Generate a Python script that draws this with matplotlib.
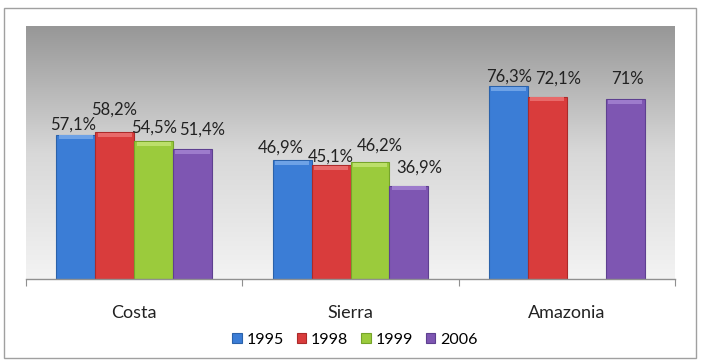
import numpy as np
import matplotlib
matplotlib.use('Agg')
import matplotlib.pyplot as plt
from matplotlib.patches import Rectangle

# Data
regions = ['Costa', 'Sierra', 'Amazonia']
years = ['1995', '1998', '1999', '2006']
v1995 = [57.1, 46.9, 76.3]
v1998 = [58.2, 45.1, 72.1]
v1999 = [54.5, 46.2, np.nan]   # no bar for Amazonia 1999
v2006 = [51.4, 36.9, 71.0]
labels = [
    ['57,1%', '46,9%', '76,3%'],
    ['58,2%', '45,1%', '72,1%'],
    ['54,5%', '46,2%', ''],
    ['51,4%', '36,9%', '71%'],
]
series = [v1995, v1998, v1999, v2006]

# label offsets in pixels (dx, dy) above each bar top, mimicking Excel placement
offsets = [
    [(-3, 10), (-11, 13), (1, 9)],
    [(-1, 22), (0, 8), (11, 18)],
    [(0, 13), (10, 16), (0, 0)],
    [(10, 19), (10, 18), (2, 20)],
]

colors = ['#3b7dd6', '#d93c3c', '#9bcb3c', '#7e56b2']
edges = ['#2b62aa', '#ab2a2a', '#76a42a', '#5e4090']
lights = ['#6ea2e6', '#e86a6a', '#bcdf6a', '#9d7bcc']

plt.rcParams['font.family'] = ['Lato', 'DejaVu Sans']

fig = plt.figure(figsize=(7.04, 3.6), dpi=100)
fig.patches.append(Rectangle((4 / 704, 2 / 360), 692 / 704, 350 / 360,
                             transform=fig.transFigure, fill=False,
                             edgecolor='#a0a0a0', linewidth=1.0))

ax = fig.add_axes([26 / 704, 1 - 279 / 360, 649 / 704, 253 / 360])
ax.set_xlim(-0.5, 2.5)
ax.set_ylim(0, 100)

# gray gradient background
grad = np.linspace(0, 1, 256).reshape(-1, 1)
ax.imshow(grad, extent=(-0.5, 2.5, 0, 100), aspect='auto', origin='lower',
          cmap=matplotlib.colors.LinearSegmentedColormap.from_list(
              'bg', ['#f3f3f3', '#d8d8d8', '#979797']),
          zorder=0)

x = np.arange(len(regions))
w = 0.18
bars = []
for i, vals in enumerate(series):
    xs = x + (i - 1.5) * w
    vals = np.array(vals, dtype=float)
    b = ax.bar(xs, vals, w, color=colors[i], edgecolor=edges[i],
               linewidth=0.8, zorder=2, label=years[i])
    # bevel highlight on top
    bev = np.where(np.isnan(vals), np.nan, 1.6)
    ax.bar(xs, bev, w * 0.88, bottom=vals - 1.9, color=lights[i],
           linewidth=0, zorder=3)
    bars.append(b)
    for j, v in enumerate(vals):
        if np.isnan(v):
            continue
        dx, dy = offsets[i][j]
        ax.annotate(labels[i][j], (xs[j], v), xytext=(dx * 0.72, dy * 0.72),
                    textcoords='offset points', ha='center', va='center',
                    fontsize=12, color='#222222', zorder=4)

for s in ['top', 'right', 'left']:
    ax.spines[s].set_visible(False)
ax.spines['bottom'].set_color('#909090')
ax.spines['bottom'].set_linewidth(1.0)
ax.set_yticks([])
ax.set_xticks([-0.5, 0.5, 1.5, 2.5])
ax.set_xticklabels([])
ax.tick_params(axis='x', length=5, color='#909090', direction='out')
for j, r in enumerate(regions):
    ax.text(j, -13.5, r, ha='center', va='center', fontsize=13,
            color='#222222', transform=ax.transData)

leg = ax.legend(handles=bars, labels=years, loc='center',
                bbox_to_anchor=(355 / 704, 1 - 340 / 360),
                bbox_transform=fig.transFigure, ncol=4, frameon=False,
                fontsize=11.5, handlelength=0.6, handleheight=0.6,
                handletextpad=0.3, columnspacing=0.8)

fig.savefig('out.png', dpi=100)
